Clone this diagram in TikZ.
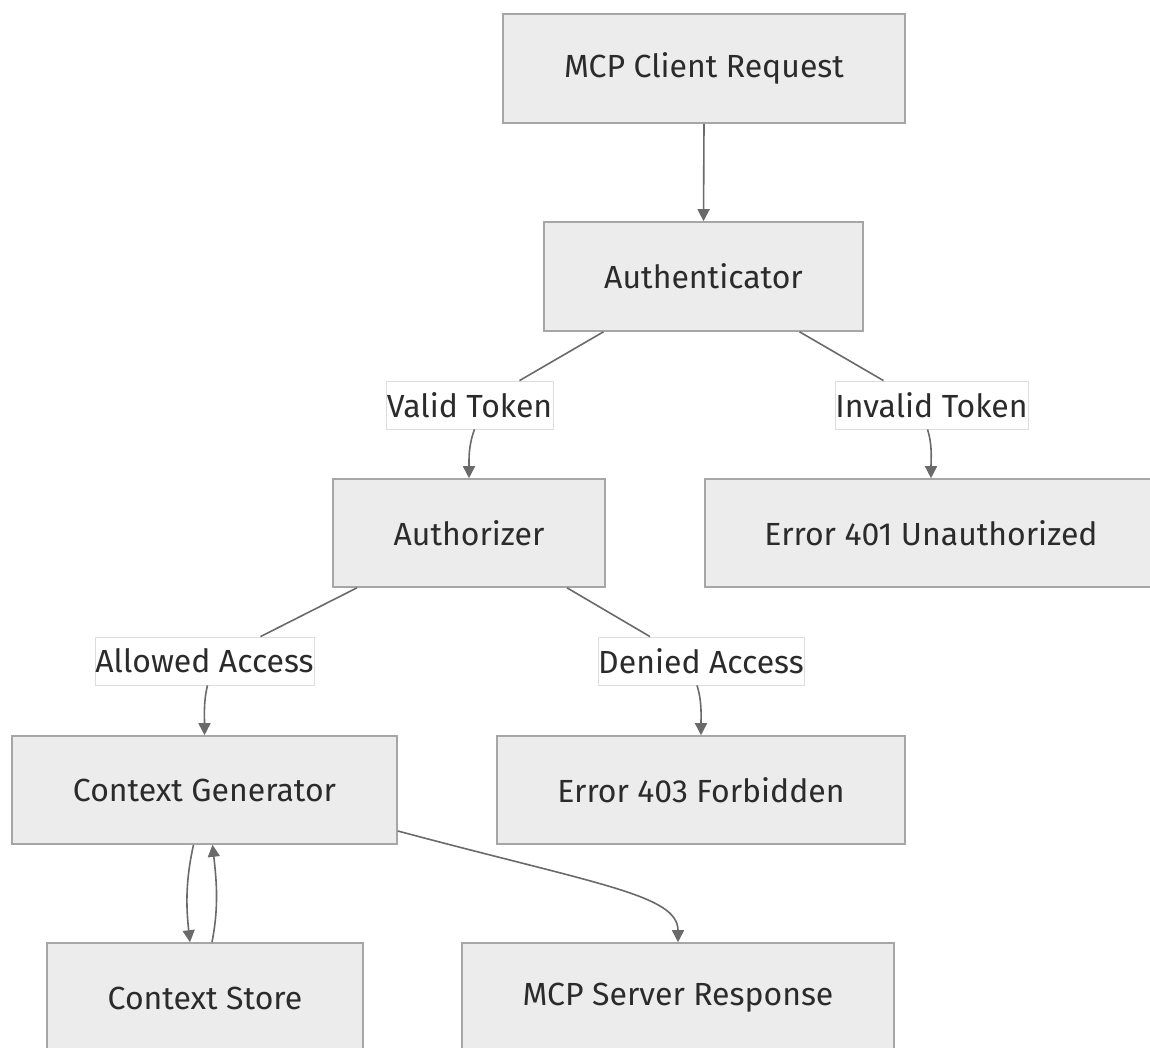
\documentclass[tikz,border=0pt]{standalone}
\usepackage{fontspec}
\setmainfont{Fira Sans}
\usetikzlibrary{arrows.meta}
\definecolor{boxfill}{HTML}{ECECEC}
\definecolor{boxline}{HTML}{A6A6A6}
\definecolor{edgecol}{HTML}{6A6A6A}
\definecolor{txt}{HTML}{2B2B2B}
\definecolor{lblline}{HTML}{DDDDDD}
\tikzset{
  flowbox/.style={draw=boxline, fill=boxfill, line width=1.6pt, text=txt,
    font=\fontsize{32}{36}\selectfont, inner sep=0pt, anchor=center},
  edgelabel/.style={draw=lblline, fill=white, line width=0.8pt, text=txt,
    font=\fontsize{32}{36}\selectfont, inner sep=0pt, anchor=center},
  flow/.style={draw=edgecol, line width=1.6pt},
  flowarrow/.style={flow, -{Triangle[length=12pt,width=12pt]}},
}
\begin{document}
\begin{tikzpicture}[x=1pt,y=-1pt]
\useasboundingbox (0,0) rectangle (1150,1048);

% process boxes
\node[flowbox, minimum width=402pt, minimum height=109pt] (req)   at (704,68.5)  {MCP Client Request};
\node[flowbox, minimum width=319pt, minimum height=109pt] (authn) at (703.5,276.5) {Authenticator};
\node[flowbox, minimum width=272pt, minimum height=108pt] (authz) at (469,533)  {Authorizer};
\node[flowbox, minimum width=452pt, minimum height=108pt] (e401)  at (931,533)  {Error 401 Unauthorized};
\node[flowbox, minimum width=385pt, minimum height=108pt] (cgen)  at (204.5,790) {Context Generator};
\node[flowbox, minimum width=408pt, minimum height=108pt] (e403)  at (701,790)  {Error 403 Forbidden};
\node[flowbox, minimum width=316pt, minimum height=110pt] (store) at (205,998)  {Context Store};
\node[flowbox, minimum width=432pt, minimum height=110pt] (resp)  at (678,998)  {MCP Server Response};

% edge labels
\node[edgelabel, minimum width=167pt, minimum height=48pt] (lvalid)   at (469.5,405) {Valid Token};
\node[edgelabel, minimum width=193pt, minimum height=48pt] (linvalid) at (931.5,405) {Invalid Token};
\node[edgelabel, minimum width=219pt, minimum height=48pt] (lallow)   at (204.5,661) {Allowed Access};
\node[edgelabel, minimum width=206pt, minimum height=48pt] (ldeny)    at (701,661)   {Denied Access};

% request -> authenticator
\draw[flowarrow] (req.south) -- (authn.north);

% authenticator branches
\draw[flow] ([xshift=-100pt]authn.south) -- ([xshift=50pt]lvalid.north);
\draw[flowarrow] ([xshift=5pt]lvalid.south) .. controls +(-6,16) and +(0,-20) .. (authz.north);
\draw[flow] ([xshift=96pt]authn.south) -- ([xshift=-48pt]linvalid.north);
\draw[flowarrow] ([xshift=-4pt]linvalid.south) .. controls +(5,16) and +(0,-20) .. (e401.north);

% authorizer branches
\draw[flow] ([xshift=-112pt]authz.south) -- ([xshift=56pt]lallow.north);
\draw[flowarrow] ([xshift=3pt]lallow.south) .. controls +(-4,16) and +(0,-20) .. (cgen.north);
\draw[flow] ([xshift=98pt]authz.south) -- ([xshift=-51pt]ldeny.north);
\draw[flowarrow] ([xshift=-4pt]ldeny.south) .. controls +(5,16) and +(0,-20) .. (e403.north);

% context generator <-> context store
\draw[flowarrow] ([xshift=-11pt]cgen.south) .. controls +(-8,36) and +(-4,-36) .. ([xshift=-15pt]store.north);
\draw[flowarrow] ([xshift=7pt]store.north) .. controls +(7,-36) and +(4,36) .. ([xshift=8pt]cgen.south);

% context generator -> server response
\draw[flowarrow] ([yshift=-41pt]cgen.east) .. controls (600,885) and (678,895) .. (resp.north);
\end{tikzpicture}
\end{document}
